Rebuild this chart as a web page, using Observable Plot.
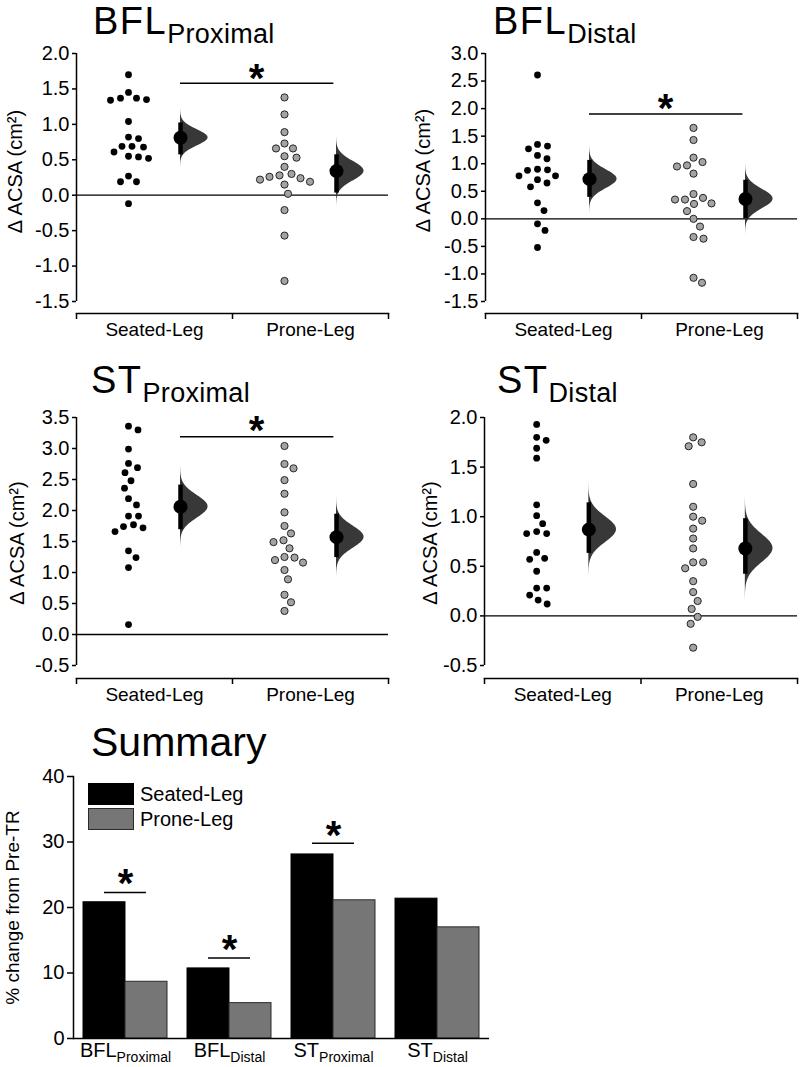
<!DOCTYPE html>
<html>
<head>
<meta charset="utf-8">
<script src="https://cdn.jsdelivr.net/npm/d3@7"></script>
<script src="https://cdn.jsdelivr.net/npm/@observablehq/plot@0.6"></script>
<style>
  body { margin: 0; background: white; font-family: "Liberation Sans", Arial, sans-serif; }
  #root { position: relative; width: 800px; height: 1067px; overflow: hidden; background: white; }
  .title { position: absolute; font-size: 38px; line-height: normal; letter-spacing: 1.5px; white-space: nowrap; color: black; }
  .title span { font-size: 27px; letter-spacing: 0.3px; position: relative; top: 9px; }
  .leg-sw { position: absolute; width: 46px; height: 22px; box-sizing: border-box; }
  .leg-tx { position: absolute; font-size: 20px; line-height: 22px; white-space: nowrap; }
</style>
</head>
<body>
<div id="root"></div>
<script>
// ---------------- data ----------------
const groups = ["Seated-Leg", "Prone-Leg"];
const yLabel = "Δ ACSA (cm²)";

const bflProxSeated = [1.70, 1.45, 1.37, 1.37, 1.34, 1.35, 1.04, 0.82, 0.80, 0.69, 0.68, 0.69, 0.61, 0.55, 0.52, 0.54, 0.27, 0.19, 0.19, -0.12];
const bflProxProne  = [1.38, 1.14, 0.89, 0.66, 0.66, 0.73, 0.53, 0.55, 0.40, 0.26, 0.19, 0.22, 0.15, 0.24, 0.28, 0.30, 0.02, -0.21, -0.57, -1.21];
const bflProxMean = [0.81, 0.34];
const bflProxLow  = [0.57, 0.03];
const bflProxHigh = [1.02, 0.57];
const bflProxTicks = [-1.5, -1.0, -0.5, 0.0, 0.5, 1.0, 1.5, 2.0];
const bflProxSig = [1.58, 1.77]; // line, asterisk

const bflDistSeated = [2.61, 1.35, 1.32, 1.27, 1.15, 1.09, 0.90, 0.89, 0.88, 0.78, 0.78, 0.71, 0.65, 0.58, 0.29, 0.15, -0.09, -0.21, -0.52];
const bflDistProne  = [1.65, 1.43, 1.11, 1.03, 0.97, 0.95, 0.82, 0.45, 0.35, 0.28, 0.35, 0.38, 0.27, 0.14, 0.00, -0.14, -0.36, -0.33, -1.07, -1.16];
const bflDistMean = [0.72, 0.36];
const bflDistLow  = [0.39, 0.00];
const bflDistHigh = [1.06, 0.70];
const bflDistTicks = [-1.5, -1.0, -0.5, 0.0, 0.5, 1.0, 1.5, 2.0, 2.5, 3.0];
const bflDistSig = [1.90, 2.15];

const stProxSeated = [3.36, 3.30, 2.99, 2.76, 2.69, 2.61, 2.48, 2.36, 2.19, 2.09, 1.91, 1.91, 1.77, 1.72, 1.74, 1.66, 1.35, 1.24, 1.08, 0.16];
const stProxProne  = [3.04, 2.75, 2.68, 2.49, 2.27, 1.97, 1.75, 1.63, 1.52, 1.49, 1.39, 1.24, 1.20, 1.25, 1.16, 1.04, 0.89, 0.64, 0.52, 0.38];
const stProxMean = [2.06, 1.57];
const stProxLow  = [1.69, 1.24];
const stProxHigh = [2.41, 1.94];
const stProxTicks = [-0.5, 0.0, 0.5, 1.0, 1.5, 2.0, 2.5, 3.0, 3.5];
const stProxSig = [3.19, 3.42];

const stDistSeated = [1.93, 1.77, 1.80, 1.69, 1.59, 1.12, 1.01, 0.93, 0.83, 0.85, 0.83, 0.64, 0.57, 0.58, 0.45, 0.28, 0.28, 0.21, 0.16, 0.12];
const stDistProne  = [1.80, 1.75, 1.71, 1.33, 1.10, 1.00, 0.96, 0.88, 0.78, 0.68, 0.54, 0.54, 0.48, 0.35, 0.24, 0.15, 0.07, -0.01, -0.08, -0.32];
const stDistMean = [0.87, 0.68];
const stDistLow  = [0.63, 0.42];
const stDistHigh = [1.14, 0.98];
const stDistTicks = [-0.5, 0.0, 0.5, 1.0, 1.5, 2.0];

const summaryCats   = ["BFL|Proximal", "BFL|Distal", "ST|Proximal", "ST|Distal"];
const summarySeated = [20.8, 10.7, 28.1, 21.35];
const summaryProne  = [8.66, 5.4, 21.1, 16.97];
const summarySigLine = [22.3, 12.3, 29.8, null];
const summarySigStar = [24.9, 14.9, 32.3, null];
const summaryTicks = [0, 10, 20, 30, 40];
const summaryYLabel = "% change from Pre-TR";

// ---------------- layout helpers ----------------
const swarmX = [1, 4];   // swarm centres (x units)
const meanX  = [2, 5];   // estimate centres (x units)
const root = document.getElementById("root");
const FONT = "'Liberation Sans', Arial, sans-serif";

function swarm(values, ky, kx, r, pad) {
  const order = d3.range(values.length).sort((a, b) => values[b] - values[a]);
  const placed = [];
  const off = new Array(values.length);
  for (const i of order) {
    const y = values[i] * ky;
    let best = 0;
    for (let k = 0; k < 600; k++) {
      const cand = (k % 2 ? 1 : -1) * Math.ceil(k / 2) * 0.5;
      if (placed.every(p => Math.hypot(p.x - cand, p.y - y) >= 2 * r + pad)) { best = cand; break; }
    }
    placed.push({x: best, y});
    off[i] = best / kx;
  }
  return off;
}

function scatterPanel(o) {
  const width = 400, mt = 8, mb = 30;
  const yMin = o.ticks[0], yMax = o.ticks[o.ticks.length - 1];
  const kx = (width - o.ml - o.mr) / 6;
  const ky = (o.height - mt - mb - o.inset) / (yMax - yMin);
  const r = 3.4;
  const offS = swarm(o.seated, ky, kx, r, 3);
  const offP = swarm(o.prone, ky, kx, r, 3);
  const ptsS = o.seated.map((v, i) => ({x: swarmX[0] + offS[i], y: v}));
  const ptsP = o.prone.map((v, i) => ({x: swarmX[1] + offP[i], y: v}));
  const est = groups.map((g, i) => ({x: meanX[i], m: o.mean[i], lo: o.low[i], hi: o.high[i], g: i}));
  const violinW = 0.53;
  const violin = est.flatMap(d => {
    const s = (d.hi - d.lo) / 3.92;
    return d3.range(-3.9, 3.9001, 0.05).map(z => ({g: d.g, base: d.x, y: d.m + z * s, w: d.x + violinW * Math.exp(-z * z / 2)}));
  });
  const marks = [
    Plot.ruleY([0], {stroke: "black", strokeWidth: 1.3}),
    Plot.ruleX([0], {y1: () => yMin, y2: () => yMax, strokeWidth: 1.5}),
    Plot.frame({anchor: "bottom", strokeWidth: 1.5}),
    Plot.axisX({ticks: [0, 3, 6], tickSize: 6, tickFormat: () => "", strokeWidth: 1.5, label: null}),
    Plot.axisX({ticks: [1.5, 4.5], tickSize: 0, tickPadding: 9, fontSize: 19, tickFormat: d => d < 3 ? groups[0] : groups[1], label: null}),
    Plot.axisY({ticks: o.ticks, tickSize: 4, tickPadding: 3, fontSize: 20, tickFormat: d => d.toFixed(1), label: null, strokeWidth: 1.5}),
    Plot.text([yLabel], {text: d => d, frameAnchor: "left", textAnchor: "middle", rotate: -90, dx: o.ldx, dy: o.ldy, fontSize: 20}),
    Plot.dot(ptsS, {x: "x", y: "y", r, fill: "black"}),
    Plot.dot(ptsP, {x: "x", y: "y", r: 3.6, fill: "#a3a3a3", stroke: "#262626", strokeWidth: 1}),
    Plot.areaX(violin, {x1: "base", x2: "w", y: "y", z: "g", fill: "#383838"}),
    Plot.ruleX(est, {x: "x", y1: "lo", y2: "hi", strokeWidth: 4.5, stroke: "black"}),
    Plot.dot(est, {x: "x", y: "m", r: 7, fill: "black"})
  ];
  if (o.sig) {
    marks.push(Plot.ruleY([o.sig[0]], {x1: () => meanX[0], x2: () => meanX[1] - 0.05, strokeWidth: 1.5}));
    marks.push(Plot.text(["*"], {text: d => d, x: () => (meanX[0] + meanX[1]) / 2 - 0.04, y: () => o.sig[1], fontSize: 40, fontWeight: "bold", dy: 9}));
  }
  const svg = Plot.plot({
    width, height: o.height,
    marginLeft: o.ml, marginRight: o.mr, marginTop: mt, marginBottom: mb,
    x: {domain: [0, 6], axis: null},
    y: {domain: [yMin, yMax], insetBottom: o.inset, axis: null},
    style: {fontFamily: FONT, fontSize: "18px", background: "white", color: "black", overflow: "visible"},
    marks
  });
  svg.style.position = "absolute";
  svg.style.left = o.left + "px";
  svg.style.top = o.top + "px";
  root.appendChild(svg);
}

function title(main, sub, left, top, size) {
  const d = document.createElement("div");
  d.className = "title";
  d.style.left = left + "px";
  d.style.top = top + "px";
  if (size) { d.style.fontSize = size + "px"; d.style.letterSpacing = "0px"; }
  d.appendChild(document.createTextNode(main));
  if (sub) { const s = document.createElement("span"); s.textContent = sub; d.appendChild(s); }
  root.appendChild(d);
}

// ---------------- four estimation panels ----------------
scatterPanel({seated: bflProxSeated, prone: bflProxProne, mean: bflProxMean, low: bflProxLow, high: bflProxHigh,
  ticks: bflProxTicks, sig: bflProxSig, left: 0, top: 45, height: 298, ml: 76, mr: 12, inset: 12, ldx: -61, ldy: -12});
scatterPanel({seated: bflDistSeated, prone: bflDistProne, mean: bflDistMean, low: bflDistLow, high: bflDistHigh,
  ticks: bflDistTicks, sig: bflDistSig, left: 400, top: 45, height: 298, ml: 85, mr: 3, inset: 12, ldx: -62, ldy: -13});
scatterPanel({seated: stProxSeated, prone: stProxProne, mean: stProxMean, low: stProxLow, high: stProxHigh,
  ticks: stProxTicks, sig: stProxSig, left: 0, top: 409, height: 299, ml: 76, mr: 12, inset: 13, ldx: -59, ldy: -5});
scatterPanel({seated: stDistSeated, prone: stDistProne, mean: stDistMean, low: stDistLow, high: stDistHigh,
  ticks: stDistTicks, sig: null, left: 400, top: 409, height: 299, ml: 84, mr: 3, inset: 13, ldx: -54, ldy: -5});

title("BFL", "Proximal", 93, 0);
title("BFL", "Distal", 493, 0);
title("ST", "Proximal", 91, 359);
title("ST", "Distal", 497, 359);
title("Summary", null, 91, 719, 41);

// ---------------- summary bar chart ----------------
(function summary() {
  const width = 500, height = 301, ml = 73, mr = 11, mt = 10, mb = 29;
  const padIn = 0.192, padOut = 0.096;
  const step = (width - ml - mr) / (summaryCats.length - padIn + 2 * padOut);
  const bw = step * (1 - padIn);
  const seated = summaryCats.map((c, i) => ({c, v: summarySeated[i]}));
  const prone = summaryCats.map((c, i) => ({c, v: summaryProne[i]}));
  const sig = summaryCats.map((c, i) => ({c, line: summarySigLine[i], star: summarySigStar[i]})).filter(d => d.line != null);
  const svg = Plot.plot({
    width, height, marginLeft: ml, marginRight: mr, marginTop: mt, marginBottom: mb,
    x: {domain: summaryCats, paddingInner: padIn, paddingOuter: padOut, axis: null},
    y: {domain: [0, 40], axis: null},
    style: {fontFamily: FONT, fontSize: "18px", background: "white", color: "black", overflow: "visible"},
    marks: [
      Plot.barY(seated, {x: "c", y: "v", fill: "black", stroke: "black", insetRight: bw / 2}),
      Plot.barY(prone, {x: "c", y: "v", fill: "#767676", stroke: "#2a2a2a", strokeWidth: 1, insetLeft: bw / 2}),
      Plot.ruleY([0], {strokeWidth: 1.5}),
      Plot.frame({anchor: "left", strokeWidth: 1.5}),
      Plot.axisY({ticks: summaryTicks, tickSize: 6, tickPadding: 3, fontSize: 20, label: null, strokeWidth: 1.5}),
      Plot.axisX({tickSize: 0, tickPadding: 5, fontSize: 19, label: null}),
      Plot.text([summaryYLabel], {text: d => d, frameAnchor: "left", textAnchor: "middle", rotate: -90, dx: -61, fontSize: 19}),
      Plot.tickY(sig, {x: "c", y: "line", insetLeft: bw / 4, insetRight: bw / 4, strokeWidth: 1.5}),
      Plot.text(sig, {x: "c", y: "star", text: () => "*", fontSize: 40, fontWeight: "bold", dy: 9})
    ]
  });
  // split tick labels into main + subscript
  svg.querySelectorAll('g[aria-label="x-axis tick label"] text').forEach(t => {
    const [main, sub] = t.textContent.split("|");
    t.textContent = "";
    const a = document.createElementNS("http://www.w3.org/2000/svg", "tspan");
    a.textContent = main;
    a.style.fontSize = "20px";
    const b = document.createElementNS("http://www.w3.org/2000/svg", "tspan");
    b.textContent = sub;
    b.style.fontSize = "14px";
    b.setAttribute("dy", "5");
    t.appendChild(a); t.appendChild(b);
  });
  svg.style.position = "absolute";
  svg.style.left = "0px";
  svg.style.top = "766px";
  root.appendChild(svg);

  // legend
  const leg = [["Seated-Leg", "black", "black", 783], ["Prone-Leg", "#767676", "#2a2a2a", 808]];
  leg.forEach(([name, fill, stroke, top]) => {
    const sw = document.createElement("div");
    sw.className = "leg-sw";
    sw.style.left = "88px"; sw.style.top = top + "px";
    sw.style.background = fill; sw.style.border = "1px solid " + stroke;
    root.appendChild(sw);
    const tx = document.createElement("div");
    tx.className = "leg-tx";
    tx.style.left = "140px"; tx.style.top = top + "px";
    tx.textContent = name;
    root.appendChild(tx);
  });
})();
</script>
</body>
</html>
